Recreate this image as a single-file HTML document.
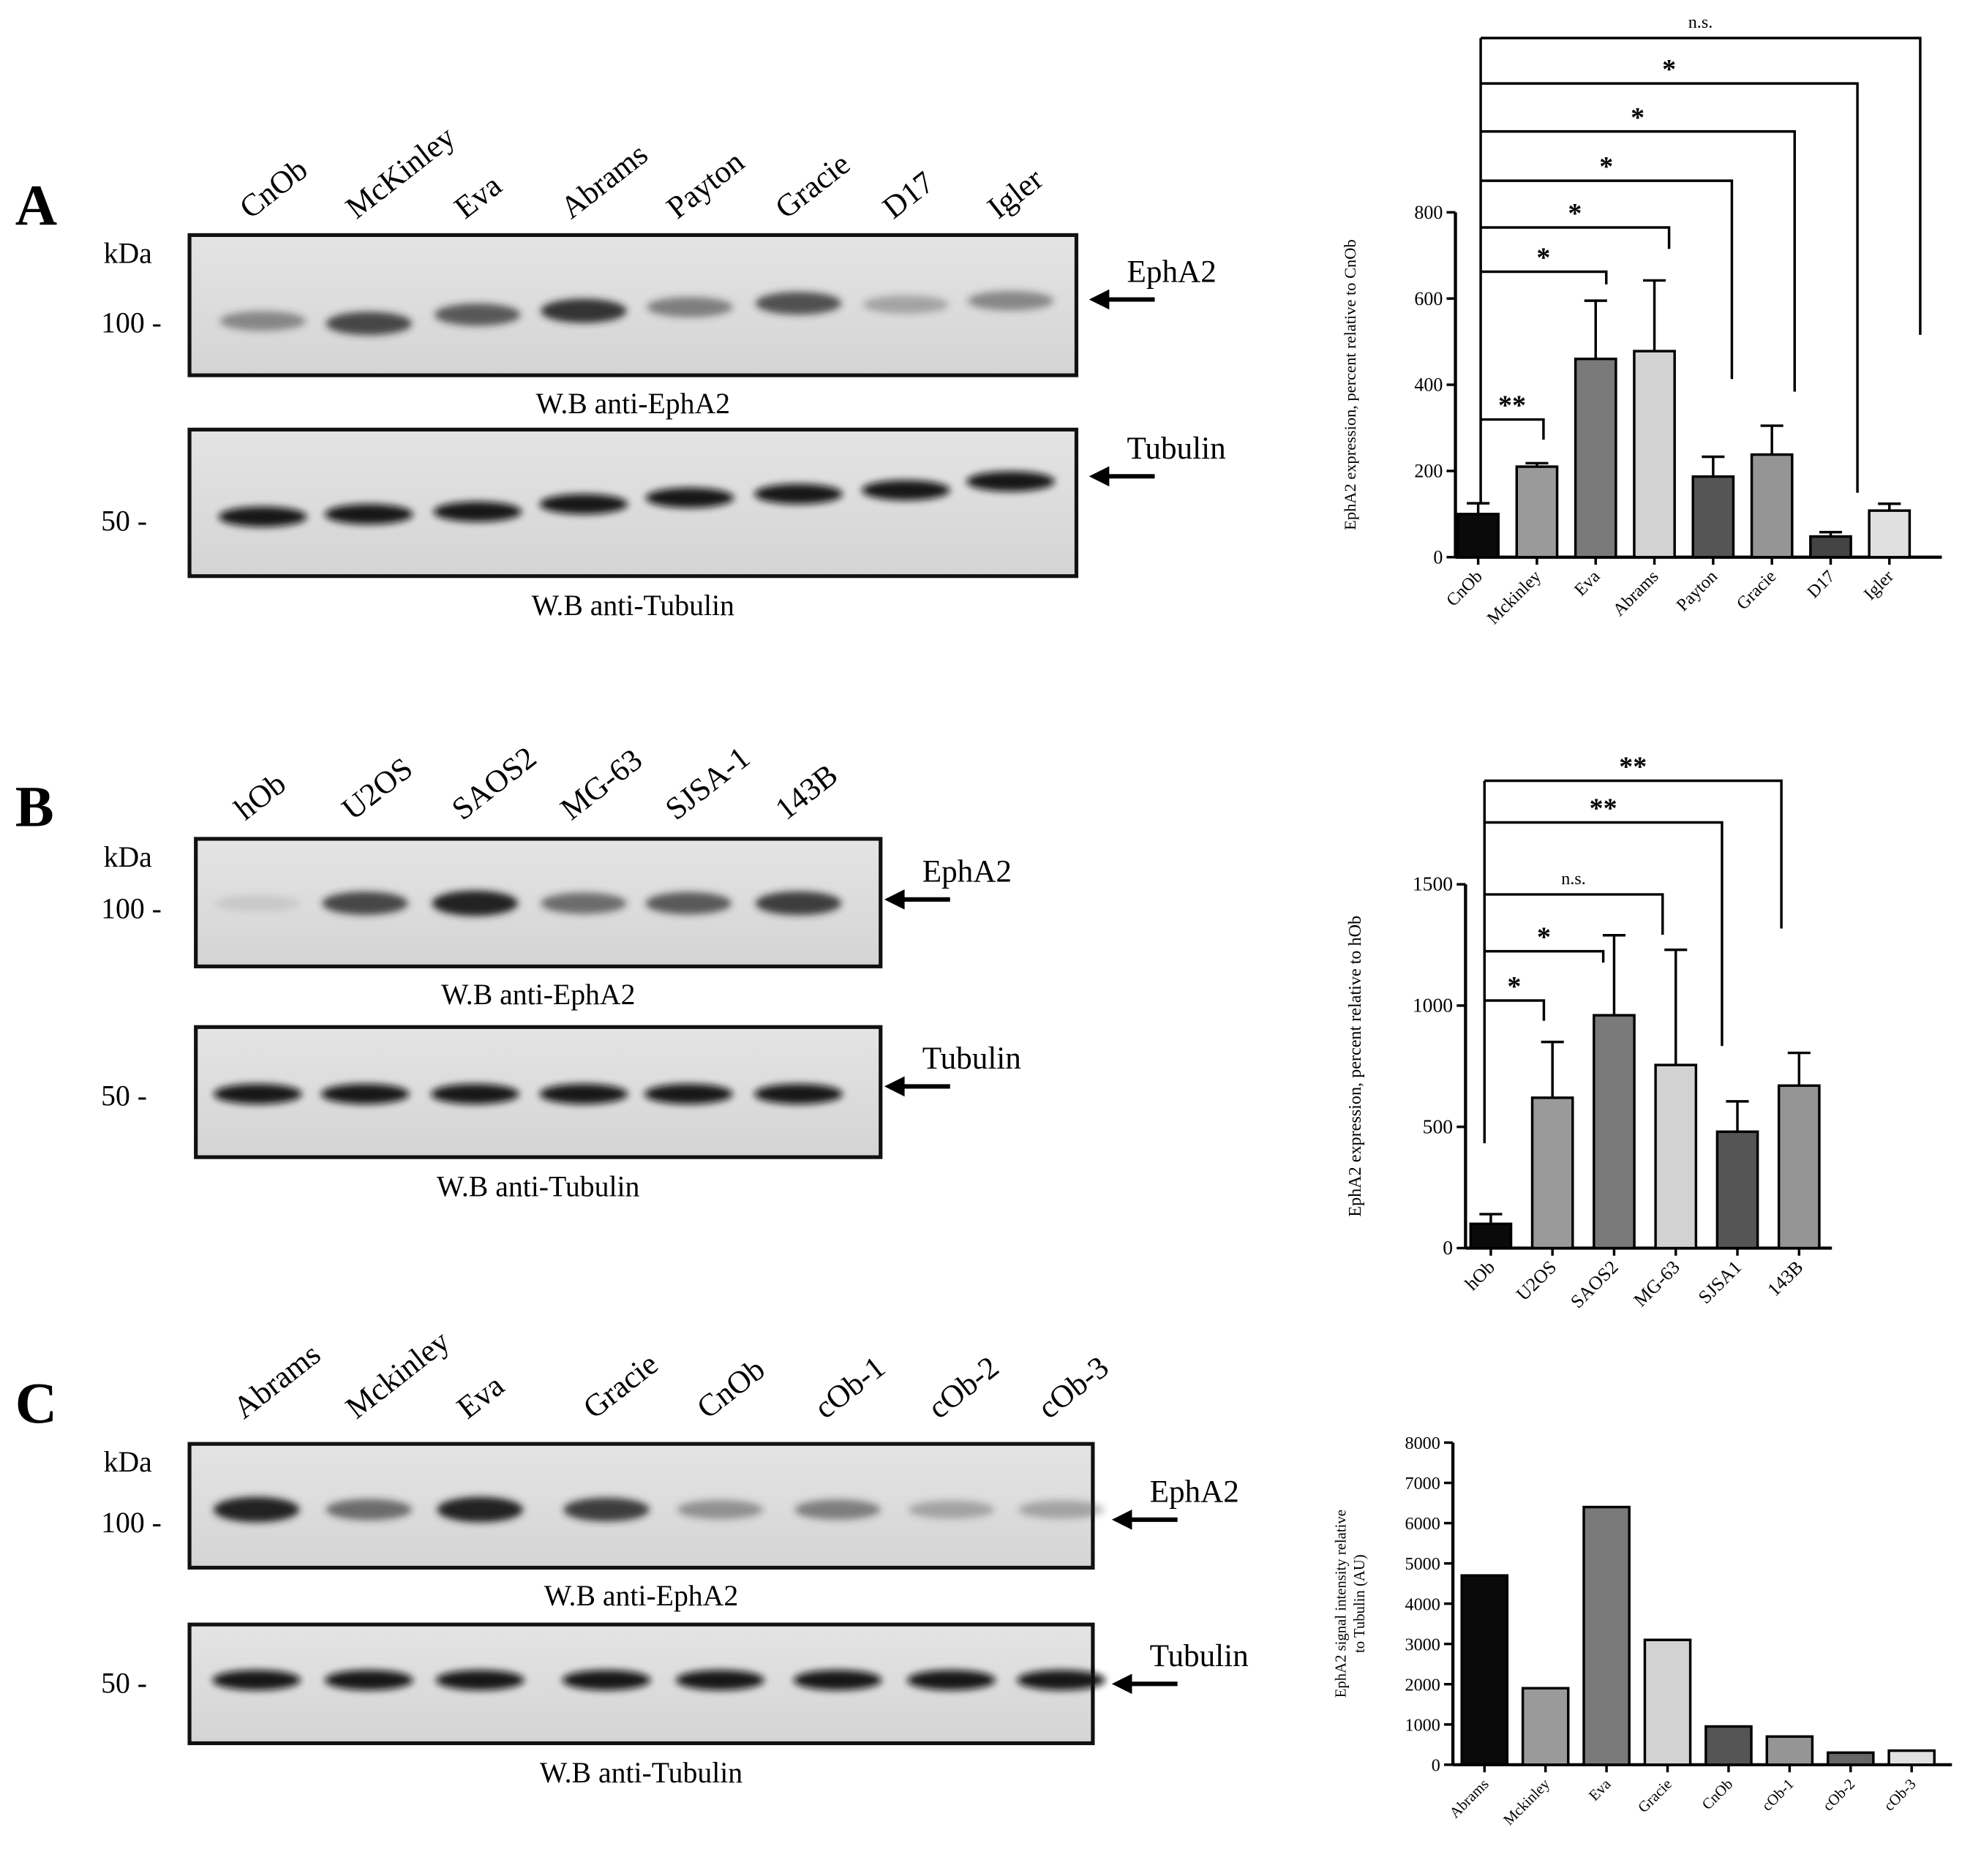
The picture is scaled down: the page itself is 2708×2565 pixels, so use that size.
<!DOCTYPE html>
<html><head><meta charset="utf-8"><style>
html,body{margin:0;padding:0;background:#fff}
svg{display:block}
.serif{font-family:"Liberation Serif",serif}
</style></head><body>
<svg id="fig" width="2708" height="2565" viewBox="0 0 1568 1485" xmlns="http://www.w3.org/2000/svg">
<defs>
<filter id="blur" x="-20%" y="-100%" width="140%" height="300%"><feGaussianBlur stdDeviation="3"/></filter>
<linearGradient id="bg" x1="0" x2="0" y1="0" y2="1"><stop offset="0" stop-color="#e4e4e4"/><stop offset="1" stop-color="#d4d4d4"/></linearGradient>
</defs>
<g id="blots" class="serif"></g>
<g id="charts" class="serif"></g>
</svg>
<script>
const NS='http://www.w3.org/2000/svg';
const gB=document.getElementById('blots');
const gC=document.getElementById('charts');
function mk(tag,attrs,parent,text){const e=document.createElementNS(NS,tag);for(const k in attrs)e.setAttribute(k,attrs[k]);if(text!==undefined)e.textContent=text;parent.appendChild(e);return e;}

const laneNamesA=['CnOb','McKinley','Eva','Abrams','Payton','Gracie','D17','Igler'];
const laneXA=[208,292,378,462,546,632,717,800];
const ephA=[0.45,0.8,0.7,0.9,0.5,0.75,0.3,0.45];
const laneNamesB=['hOb','U2OS','SAOS2','MG-63','SJSA-1','143B'];
const laneXB=[204,289,376,462,545,632];
const ephB=[0.1,0.8,1,0.6,0.7,0.85];
const laneNamesC=['Abrams','Mckinley','Eva','Gracie','CnOb','cOb-1','cOb-2','cOb-3'];
const laneXC=[203,292,380,480,570,663,753,840];
const ephC=[1,0.6,1,0.85,0.4,0.5,0.3,0.3];

function panel(p){
  const g=mk('g',{},gB);
  
  
  const L=mk('text',{x:12,y:p.letterY,'font-size':46,'font-weight':'bold'},g,p.letter);
  
  
  p.names.forEach((n,i)=>{
    const t=mk('text',{x:p.xs[i]-10,y:p.labY-4,'font-size':25,transform:`rotate(-38 ${p.xs[i]-10} ${p.labY-4})`},g,n);
    
    
  });
  const b1=mk('rect',{x:p.x0,y:p.e0,width:p.x1-p.x0,height:p.e1-p.e0,fill:'url(#bg)',stroke:'#111','stroke-width':3},g);
  
  
  p.names.forEach((n,i)=>{
    const a=p.eph[i];
    const e=mk('ellipse',{cx:p.xs[i],cy:p.eBand+(p.ephDy?p.ephDy[i]:0),rx:34,ry:6+4*a,fill:'#222',opacity:a,filter:'url(#blur)'},g);
    
    
  });
  const b2=mk('rect',{x:p.x0,y:p.t0,width:p.x1-p.x0,height:p.t1-p.t0,fill:'url(#bg)',stroke:'#111','stroke-width':3},g);
  
  
  p.names.forEach((n,i)=>{
    const e=mk('ellipse',{cx:p.xs[i],cy:p.tBand+(p.tubDy?p.tubDy[i]:0),rx:35,ry:8,fill:'#111',opacity:0.95,filter:'url(#blur)'},g);
    
    
  });
  const texts=[[82,p.e0+22,'kDa'],[80,p.m100,'100 -'],[80,p.m50,'50 -']];
  texts.forEach(t=>{const e=mk('text',{x:t[0],y:t[1],'font-size':23},g,t[2]);});
  const cx=(p.x0+p.x1)/2;
  const w1=mk('text',{x:cx,y:p.e1+30,'font-size':23,'text-anchor':'middle'},g,'W.B anti-EphA2');
  
  
  const w2=mk('text',{x:cx,y:p.t1+31,'font-size':23,'text-anchor':'middle'},g,'W.B anti-Tubulin');
  
  
  [[p.eArrowY,'EphA2'],[p.tArrowY,'Tubulin']].forEach(a=>{
    const ln=mk('line',{x1:p.ax+52,y1:a[0],x2:p.ax+12,y2:a[0],stroke:'#000','stroke-width':3.5},g);
    
    
    mk('polygon',{points:`${p.ax},${a[0]} ${p.ax+16},${a[0]-8} ${p.ax+16},${a[0]+8}`,fill:'#000'},g);
    const t=mk('text',{x:p.ax+30,y:a[0]-14,'font-size':25},g,a[1]);
    
    
  });
}
panel({letter:'A',letterY:178,names:laneNamesA,xs:laneXA,eph:ephA,labY:178,x0:150,x1:852,e0:186,e1:297,eBand:250,ephDy:[4,6,-1,-4,-7,-10,-9,-12],t0:340,t1:456,tBand:407,tubDy:[2,0,-2,-8,-13,-16,-19,-26],m100:263,m50:420,ax:862,eArrowY:237,tArrowY:377});
panel({letter:'B',letterY:654,names:laneNamesB,xs:laneXB,eph:ephB,labY:654,x0:155,x1:697,e0:664,e1:765,eBand:715,t0:813,t1:916,tBand:866,m100:727,m50:875,ax:700,eArrowY:712,tArrowY:860});
panel({letter:'C',letterY:1126,names:laneNamesC,xs:laneXC,eph:ephC,labY:1128,x0:150,x1:865,e0:1143,e1:1241,eBand:1195,t0:1286,t1:1380,tBand:1330,m100:1213,m50:1340,ax:880,eArrowY:1203,tArrowY:1333});

const catsA=['CnOb','Mckinley','Eva','Abrams','Payton','Gracie','D17','Igler'];
const valsA=[100,210,460,478,187,238,48,108];
const errA=[125,218,595,642,233,305,58,124];
const ticksA=[0,200,400,600,800];
const colorsA=['#0a0a0a','#9a9a9a','#7a7a7a','#d2d2d2','#555','#959595','#444','#e0e0e0'];
const sigA=['**','*','*','*','*','*','n.s.'];
const bracketYA=[332,215,180,143,104,66,30];
const bracketEndA=[348,225,197,300,310,390,265];

const catsB=['hOb','U2OS','SAOS2','MG-63','SJSA1','143B'];
const valsB=[100,620,960,755,480,670];
const errB=[140,850,1290,1230,605,805];
const ticksB=[0,500,1000,1500];
const colorsB=['#0a0a0a','#9a9a9a','#7a7a7a','#d2d2d2','#555','#959595'];
const sigB=['*','*','n.s.','**','**'];
const bracketYB=[792,753,708,651,618];
const bracketEndB=[808,762,740,828,735];

const catsC=['Abrams','Mckinley','Eva','Gracie','CnOb','cOb-1','cOb-2','cOb-3'];
const valsC=[4700,1900,6400,3100,950,700,300,350];
const ticksC=[0,1000,2000,3000,4000,5000,6000,7000,8000];
const colorsC=['#0a0a0a','#9a9a9a','#7a7a7a','#d2d2d2','#555','#959595','#666','#e0e0e0'];

function chart(c){
  const g=mk('g',{},gC);
  
  
  const y=v=>c.yb-(v/c.ymax)*(c.yb-c.yt);
  const x=i=>c.x0+c.first+i*c.step;
  const ya=mk('line',{x1:c.ax,y1:c.yt,x2:c.ax,y2:c.yb,stroke:'#000','stroke-width':2.5},g);
  
  
  const xa=mk('line',{x1:c.ax,y1:c.yb,x2:c.xe,y2:c.yb,stroke:'#000','stroke-width':2.5},g);
  
  
  c.ticks.forEach(t=>{
    mk('line',{x1:c.ax-7,y1:y(t),x2:c.ax,y2:y(t),stroke:'#000','stroke-width':2},g);
    const tl=mk('text',{x:c.ax-10,y:y(t)+5,'font-size':c.tfs,'text-anchor':'end'},g,String(t));
    
    
  });
  c.cats.forEach((n,i)=>{
    const cx=x(i);
    if(c.errs){
      mk('line',{x1:cx,y1:y(c.vals[i]),x2:cx,y2:y(c.errs[i]),stroke:'#000','stroke-width':2},g);
      mk('line',{x1:cx-9,y1:y(c.errs[i]),x2:cx+9,y2:y(c.errs[i]),stroke:'#000','stroke-width':2},g);
    }
    const b=mk('rect',{x:cx-c.bw/2,y:y(c.vals[i]),width:c.bw,height:c.yb-y(c.vals[i]),fill:c.colors[i],stroke:'#000','stroke-width':2},g);
    
    
    mk('line',{x1:cx,y1:c.yb,x2:cx,y2:c.yb+6,stroke:'#000','stroke-width':2},g);
    const tl=mk('text',{x:cx+4,y:c.yb+16,'font-size':c.xfs,'text-anchor':'end',transform:`rotate(-45 ${cx+4} ${c.yb+16})`},g,n);
    
    
  });
  const lx=c.lblX, ly=(c.yt+c.yb)/2;
  c.ylabel.forEach((s,k)=>{
    const t=mk('text',{x:lx+k*15,y:ly,'font-size':c.lfs,'text-anchor':'middle',transform:`rotate(-90 ${lx+k*15} ${ly})`},g,s);
    
    
  });
  if(c.sig){
    const lx0=c.bx0;
    mk('line',{x1:lx0,y1:c.sigStart,x2:lx0,y2:Math.min(...c.by),stroke:'#000','stroke-width':2},g);
    c.sig.forEach((s,k)=>{
      const xe=lx0+(k+1)*c.bstep;
      const br=mk('polyline',{points:`${lx0},${c.by[k]} ${xe},${c.by[k]} ${xe},${c.be[k]}`,fill:'none',stroke:'#000','stroke-width':2},g);
      
      
      const ns=s==='n.s.';
      const st=mk('text',{x:(lx0+xe)/2,y:c.by[k]-(ns?8:4),'font-size':ns?14:22,'font-weight':ns?'normal':'bold','text-anchor':'middle'},g,s);
      
      
    });
  }
}
chart({name:'chart-a',cats:catsA,vals:valsA,errs:errA,ticks:ticksA,colors:colorsA,ymax:800,yt:168,yb:441,ax:1152,xe:1537,x0:1152,first:18,step:46.5,bw:32,tfs:15,xfs:14,lfs:13,lblX:1073,ylabel:['EphA2 expression, percent relative to CnOb'],sig:sigA,by:bracketYA,be:bracketEndA,sigStart:398,bx0:1172,bstep:49.7});
chart({name:'chart-b',cats:catsB,vals:valsB,errs:errB,ticks:ticksB,colors:colorsB,ymax:1500,yt:700,yb:988,ax:1160,xe:1450,x0:1160,first:20,step:48.8,bw:32,tfs:16,xfs:15,lfs:14,lblX:1077,ylabel:['EphA2 expression, percent relative to hOb'],sig:sigB,by:bracketYB,be:bracketEndB,sigStart:905,bx0:1175,bstep:47});
chart({name:'chart-c',cats:catsC,vals:valsC,ticks:ticksC,colors:colorsC,ymax:8000,yt:1142,yb:1397,ax:1150,xe:1545,x0:1150,first:25,step:48.3,bw:36,tfs:14,xfs:12,lfs:12,lblX:1065,ylabel:['EphA2 signal intensity relative','to Tubulin (AU)']});
</script>
</body></html>
